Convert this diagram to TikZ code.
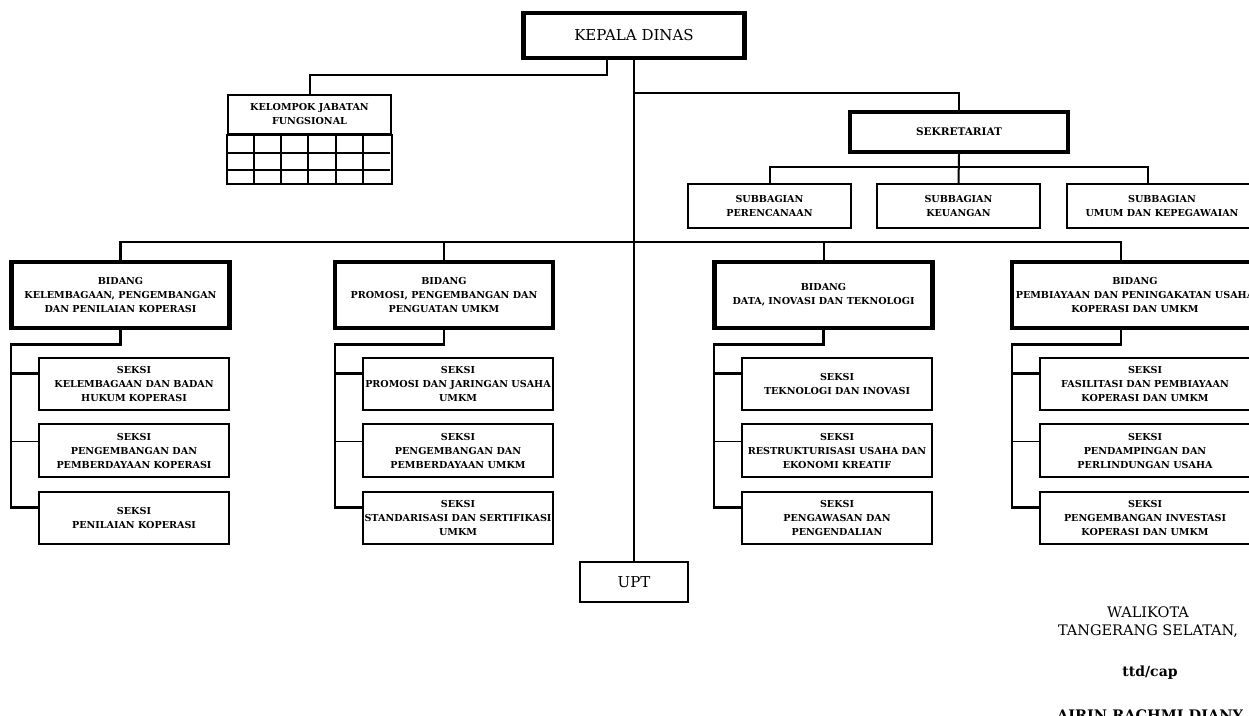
\documentclass[tikz,border=0pt]{standalone}
\usepackage{fontspec}
\setmainfont{DejaVu Serif}
\usetikzlibrary{calc}
\newcommand\smallfont{\fontsize{9.6}{14}\selectfont\bfseries}
\newcommand\bigfont{\fontsize{15}{18}\selectfont}
\tikzset{
  thinbox/.style={draw, line width=2.2pt, inner sep=0pt, align=center, font=\smallfont},
  thickbox/.style={thinbox, line width=4.5pt},
  seksibox/.style={thinbox, minimum width=190pt, minimum height=52pt},
  bidbox/.style={thickbox, minimum width=218pt, minimum height=66pt},
  subbox/.style={thinbox, minimum width=163pt, minimum height=44pt},
  conn/.style={line width=2pt},
}
\begin{document}
\begin{tikzpicture}[x=1pt, y=-1pt]
\useasboundingbox (0,0) rectangle (1249,715);
\clip (0,0) rectangle (1249,715);

% top
\node[thickbox, minimum width=221pt, minimum height=45pt, font=\bigfont] (kd) at (634,35.5) {KEPALA DINAS};
\node[thinbox, minimum width=163pt, minimum height=39pt] (kjf) at (309.5,114.5) {KELOMPOK JABATAN\\FUNGSIONAL};
\draw[line width=2.2pt] (kjf.south west) rectangle ($(kjf.south east)+(0,49)$);
\foreach \i in {1,...,5} \draw[line width=2pt] ($(kjf.south west)+(\i*27.17,0)$) -- ++(0,49);
\foreach \d in {18,35} \draw[line width=2pt] ($(kjf.south west)+(0,\d)$) -- ++(163,0);

\node[thickbox, minimum width=218pt, minimum height=40pt, font=\fontsize{10.5}{14}\selectfont\bfseries] (sek) at (959,132) {SEKRETARIAT};
\node[subbox] (sb1) at (769.5,206) {SUBBAGIAN\\PERENCANAAN};
\node[subbox] (sb2) at (958.5,206) {SUBBAGIAN\\KEUANGAN};
\node[subbox, minimum width=190pt] (sb3) at (1162,206) {SUBBAGIAN\\UMUM DAN KEPEGAWAIAN};

\node[thinbox, minimum width=108pt, minimum height=40pt, font=\bigfont] (upt) at (634,582) {UPT};

% bidang
\node[bidbox] (b1) at (120.5,295) {BIDANG\\KELEMBAGAAN, PENGEMBANGAN\\DAN PENILAIAN KOPERASI};
\node[bidbox] (b2) at (444,295) {BIDANG\\PROMOSI, PENGEMBANGAN DAN\\PENGUATAN UMKM};
\node[bidbox] (b3) at (823.5,295) {BIDANG\\DATA, INOVASI DAN TEKNOLOGI};
\node[bidbox, minimum width=246pt] (b4) at (1135,295) {BIDANG\\PEMBIAYAAN DAN PENINGAKATAN USAHA\\KOPERASI DAN UMKM};

% seksi
\node[seksibox] (s11) at (134,384) {SEKSI\\KELEMBAGAAN DAN BADAN\\HUKUM KOPERASI};
\node[seksibox, minimum height=53pt] (s12) at (134,450.5) {SEKSI\\PENGEMBANGAN DAN\\PEMBERDAYAAN KOPERASI};
\node[seksibox] (s13) at (134,518) {SEKSI\\PENILAIAN KOPERASI};

\node[seksibox] (s21) at (458,384) {SEKSI\\PROMOSI DAN JARINGAN USAHA\\UMKM};
\node[seksibox, minimum height=53pt] (s22) at (458,450.5) {SEKSI\\PENGEMBANGAN DAN\\PEMBERDAYAAN UMKM};
\node[seksibox] (s23) at (458,518) {SEKSI\\STANDARISASI DAN SERTIFIKASI\\UMKM};

\node[seksibox] (s31) at (837,384) {SEKSI\\TEKNOLOGI DAN INOVASI};
\node[seksibox, minimum height=53pt] (s32) at (837,450.5) {SEKSI\\RESTRUKTURISASI USAHA DAN\\EKONOMI KREATIF};
\node[seksibox] (s33) at (837,518) {SEKSI\\PENGAWASAN DAN\\PENGENDALIAN};

\node[seksibox, minimum width=210pt] (s41) at (1145,384) {SEKSI\\FASILITASI DAN PEMBIAYAAN\\KOPERASI DAN UMKM};
\node[seksibox, minimum width=210pt, minimum height=53pt] (s42) at (1145,450.5) {SEKSI\\PENDAMPINGAN DAN\\PERLINDUNGAN USAHA};
\node[seksibox, minimum width=210pt] (s43) at (1145,518) {SEKSI\\PENGEMBANGAN INVESTASI\\KOPERASI DAN UMKM};

% signature
\node[font=\fontsize{14.5}{18}\selectfont, align=center] (wk) at (1148,622) {WALIKOTA\\TANGERANG SELATAN,};
\node[font=\fontsize{14}{17}\selectfont\bfseries] (ttd) at (1150,673) {ttd/cap};
\node[font=\fontsize{14.5}{17}\selectfont\bfseries, anchor=base] (nm) at (1150,720) {AIRIN RACHMI DIANY};

% connectors
\draw[conn] (kd.south) -- (upt.north);
\draw[conn] (kjf.north) -- ++(0,-19) -| ([xshift=-27pt]kd.south);
\draw[conn] (sek.north) -- ++(0,-17) -| (kd.south);
\draw[conn] (sb1.north) -- ++(0,-16) -| (sek.south);
\draw[conn] ([xshift=-14pt]sb3.north) -- ++(0,-16) -| (sek.south);
\draw[conn] (sek.south) -- (sb2.north);

\draw[conn, line width=2.5pt] (b1.north) -- ++(0,-18) -| ([xshift=-14pt]b4.north);
\draw[conn] (b2.north) -- ++(0,-18);
\draw[conn] (b3.north) -- ++(0,-18);

\foreach \b/\c/\sh in {b1/1/0, b2/2/0, b3/3/0, b4/4/-14} {
  \draw[conn, line width=2.5pt] ([xshift=\sh pt]\b.south) -- ++(0,14) -| ($(s\c3.north west)!0.31!(s\c3.south west)+(-27,0)$) -- ($(s\c3.north west)!0.31!(s\c3.south west)$);
  \draw[conn, line width=2.5pt] ($(s\c1.north west)!0.31!(s\c1.south west)$) -- ++(-27,0);
  \draw[conn, line width=1.6pt] ($(s\c2.north west)!0.34!(s\c2.south west)$) -- ++(-27,0);
}
\end{tikzpicture}
\end{document}
